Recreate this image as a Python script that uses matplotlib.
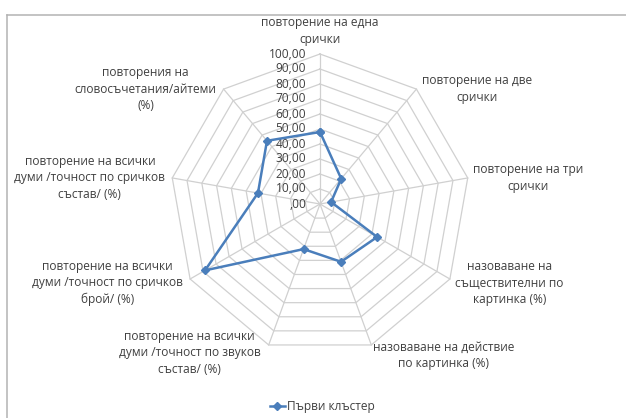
import matplotlib.pyplot as plt
import numpy as np
from matplotlib.lines import Line2D

plt.rcParams['font.family'] = ['Open Sans', 'DejaVu Sans']

# Данни
categories = [
    "повторение на една\nсрички",
    "повторение на две\nсрички",
    "повторение на три\nсрички",
    "назоваване на\nсъществителни по\nкартинка (%)",
    "назоваване на действие\nпо картинка (%)",
    "повторение на всички\nдуми /точност по звуков\nсъстав/ (%)",
    "повторение на всички\nдуми /точност по сричков\nброй/ (%)",
    "повторение на всички\nдуми /точност по сричков\nсъстав/ (%)",
    "повторения на\nсловосъчетания/айтеми\n(%)",
]
values = [48.0, 22.0, 7.5, 44.0, 41.0, 32.0, 88.5, 42.0, 55.0]
ticks = [0, 10, 20, 30, 40, 50, 60, 70, 80, 90, 100]
series_name = "Първи клъстер"

grid_color = "#d0d0d0"
line_color = "#4a7ebb"
text_color = "#404040"

n = len(categories)
theta = np.arange(n) * 2 * np.pi / n  # от горе, по часовника


def to_xy(r, t):
    return r * np.sin(t), r * np.cos(t)


fig = plt.figure(figsize=(6.26, 4.18), dpi=100)
ax = fig.add_axes([0, 0, 1, 1])
# 1 единица = 1.5 px, центърът е в (320, 204) px
ax.set_xlim(-320 / 1.5, 306 / 1.5)
ax.set_ylim(-(418 - 204) / 1.5, 204 / 1.5)
ax.axis("off")

# мрежа
for r in ticks[1:]:
    gx, gy = to_xy(r, np.append(theta, theta[0]))
    ax.plot(gx, gy, color=grid_color, lw=0.9, zorder=1)
for t in theta:
    sx, sy = to_xy(np.array([0, ticks[-1]]), t)
    ax.plot(sx, sy, color=grid_color, lw=0.9, zorder=1)

# стойности по оста
for r in ticks:
    lab = f"{r:.2f}".replace(".", ",")
    if r == 0:
        lab = ",00"
    ax.annotate(lab, (0, r), xytext=(-10, 0), textcoords="offset points",
                ha="right", va="center", fontsize=8.6, color=text_color)

# етикети на категориите
for lab, t in zip(categories, theta):
    vx, vy = to_xy(ticks[-1], t)
    deg = np.degrees(t)
    if deg < 1:
        ha, va, off = "center", "bottom", (0, 6)
    elif deg < 150:
        ha, va, off = "left", "center", (4, -3 if deg > 100 else 0)
    elif deg < 180:
        ha, va, off = "left", "top", (1, 3)
    elif deg < 220:
        ha, va, off = "right", "top", (-6, 11)
    else:
        ha, va, off = "right", "center", (-5, -3 if deg < 260 else 0)
    ax.annotate(lab, (vx, vy), xytext=off, textcoords="offset points",
                ha=ha, va=va, fontsize=8.6, color=text_color,
                multialignment="center", linespacing=1.35)

# серия
px, py = to_xy(np.array(values + values[:1]), np.append(theta, theta[0]))
ax.plot(px, py, color=line_color, lw=1.8, marker="D", ms=3.6,
        zorder=3, solid_joinstyle="round")

# легенда
h = Line2D([], [], color=line_color, lw=1.8, marker="D", ms=3.6)
fig.legend([h], [series_name], loc="center", bbox_to_anchor=(0.515, 0.028),
           frameon=False, fontsize=8.6, handlelength=1.3, handletextpad=0.2,
           labelcolor=text_color)

# рамка
fig.add_artist(Line2D([7 / 626, 1], [1 - 14.5 / 418] * 2, color="#b3b3b3", lw=1.1))
fig.add_artist(Line2D([7 / 626] * 2, [0, 1 - 14.5 / 418], color="#b3b3b3", lw=1.1))

fig.savefig("out.png", dpi=100)
